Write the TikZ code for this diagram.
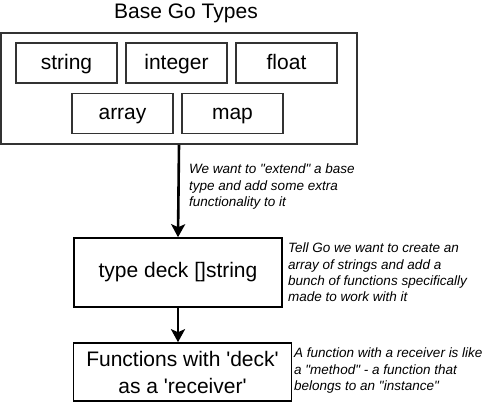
\documentclass[tikz,border=0pt]{standalone}
\usepackage{fontspec}
\setmainfont{Liberation Sans}[Ligatures=TeXOff]
\usetikzlibrary{arrows.meta, positioning}
\definecolor{boxgray}{RGB}{51,51,51}

\begin{document}
\begin{tikzpicture}[x=1pt,y=-1pt,
    basetype/.style={draw=boxgray, line width=1.4pt, minimum width=101pt, minimum height=40pt, inner sep=0pt,
      text height=17pt, text depth=4.5pt, font=\fontsize{21}{24}\selectfont},
    stagebox/.style={draw=black, line width=1.6pt, inner sep=0pt, align=center,
      font=\fontsize{21}{27}\selectfont},
    note/.style={anchor=north west, align=left, inner sep=0pt, font=\fontsize{13.5}{16.3}\selectfont\itshape},
    flow/.style={line width=2.6pt, -{Stealth[length=13pt,width=14pt,inset=3pt]}}]
      \useasboundingbox (0,0) rectangle (493,404);
      \node[font=\fontsize{21}{25}\selectfont] (title) at (186,13){Base Go Types};
      \node[draw=boxgray, line width=1.6pt, minimum width=356pt, minimum height=111pt] (basebox) at (179,88.5){};
      \foreach \t [count=\i] in {string,integer,float} {
        \node[basetype] (B\i) at (66.5+110*\i-110,63){\t};
      }
      \node[basetype] (B4) at (122.5,113.5){array};
      \node[basetype] (B5) at (232.5,113.5){map};
      \node[stagebox, minimum width=208pt, minimum height=69pt] (typedeck) at (178,272.5){type deck []string};
      \node[stagebox, minimum width=218pt, minimum height=58pt] (funcs) at (182.5,372){Functions with 'deck'\\as a 'receiver'};
      \draw[flow] (basebox.south) -- (typedeck.north);
      \draw[flow] (typedeck.south) -- (typedeck.south |- funcs.north);
      \node[note] (extendnote) at (189,164){We want to "extend" a base\\type and add some extra\\functionality to it};
      \node[note] (decknote) at (288,243){Tell Go we want to create an\\array of strings and add a\\bunch of functions specifically\\made to work with it};
      \node[note] (recvnote) at (294,348){A function with a receiver is like\\a "method" - a function that\\belongs to an "instance"};
    \end{tikzpicture}
\end{document}
